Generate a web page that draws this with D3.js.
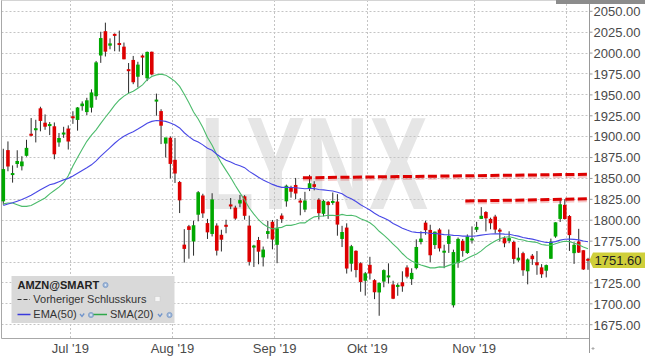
<!DOCTYPE html>
<html><head><meta charset="utf-8">
<script src="https://cdn.jsdelivr.net/npm/d3@7"></script>
<style>html,body{margin:0;padding:0;background:#fff}svg{display:block}</style>
</head><body>
<svg id="chart" width="645" height="358"></svg>
<script>
const dates = [
"2019-06-10","2019-06-11","2019-06-12","2019-06-13","2019-06-14","2019-06-17","2019-06-18","2019-06-19","2019-06-20","2019-06-21","2019-06-24","2019-06-25","2019-06-26","2019-06-27","2019-06-28",
"2019-07-01","2019-07-02","2019-07-03","2019-07-05","2019-07-08","2019-07-09","2019-07-10","2019-07-11","2019-07-12","2019-07-15","2019-07-16","2019-07-17","2019-07-18","2019-07-19","2019-07-22","2019-07-23","2019-07-24","2019-07-25","2019-07-26","2019-07-29","2019-07-30","2019-07-31",
"2019-08-01","2019-08-02","2019-08-05","2019-08-06","2019-08-07","2019-08-08","2019-08-09","2019-08-12","2019-08-13","2019-08-14","2019-08-15","2019-08-16","2019-08-19","2019-08-20","2019-08-21","2019-08-22","2019-08-23","2019-08-26","2019-08-27","2019-08-28","2019-08-29","2019-08-30",
"2019-09-03","2019-09-04","2019-09-05","2019-09-06","2019-09-09","2019-09-10","2019-09-11","2019-09-12","2019-09-13","2019-09-16","2019-09-17","2019-09-18","2019-09-19","2019-09-20","2019-09-23","2019-09-24","2019-09-25","2019-09-26","2019-09-27","2019-09-30",
"2019-10-01","2019-10-02","2019-10-03","2019-10-04","2019-10-07","2019-10-08","2019-10-09","2019-10-10","2019-10-11","2019-10-14","2019-10-15","2019-10-16","2019-10-17","2019-10-18","2019-10-21","2019-10-22","2019-10-23","2019-10-24","2019-10-25","2019-10-28","2019-10-29","2019-10-30","2019-10-31",
"2019-11-01","2019-11-04","2019-11-05","2019-11-06","2019-11-07","2019-11-08","2019-11-11","2019-11-12","2019-11-13","2019-11-14","2019-11-15","2019-11-18","2019-11-19","2019-11-20","2019-11-21","2019-11-22","2019-11-25","2019-11-26","2019-11-27","2019-11-29",
"2019-12-02","2019-12-03","2019-12-04","2019-12-05","2019-12-06"];

const open = [1822.0,1883.3,1854.0,1866.7,1864.0,1876.5,1902.0,1907.8,1933.3,1916.1,1912.7,1911.8,1892.5,1902.0,1909.1,
1923.0,1919.4,1935.9,1928.8,1934.1,1947.8,1996.5,2025.6,2008.3,2021.4,2010.6,2007.1,1980.0,1991.2,1971.1,1996.0,1969.3,2001.0,1942.0,1930.0,1891.1,1898.1,
1871.7,1845.1,1770.2,1792.2,1774.0,1806.0,1829.0,1796.0,1783.0,1793.0,1782.0,1792.9,1818.1,1814.5,1819.4,1828.0,1793.0,1766.9,1775.7,1755.0,1783.0,1797.5,
1770.0,1805.0,1822.0,1838.2,1841.6,1822.8,1812.1,1837.6,1842.5,1824.0,1807.1,1821.5,1821.0,1821.7,1777.0,1790.6,1747.4,1762.8,1748.0,1727.0,
1746.0,1727.7,1713.0,1726.0,1731.6,1722.5,1719.6,1725.2,1742.9,1728.9,1742.1,1773.3,1796.5,1787.8,1769.7,1788.2,1761.3,1771.1,1697.6,1748.1,1774.8,1760.2,1776.0,
1788.0,1801.0,1809.2,1801.0,1803.8,1787.9,1778.0,1774.7,1773.4,1751.4,1760.0,1738.3,1757.0,1749.1,1743.0,1739.0,1753.3,1779.9,1801.0,1817.8,
1804.4,1760.0,1774.0,1763.5,1752.4];

const high = [1884.9,1893.7,1865.0,1883.1,1876.0,1895.7,1921.7,1919.6,1935.2,1926.0,1916.9,1916.4,1903.8,1911.2,1912.9,
1929.8,1934.8,1941.6,1945.9,1956.0,1990.0,2024.9,2035.8,2017.0,2022.9,2026.3,2012.0,1987.5,1996.0,1989.0,1997.8,2001.3,2001.2,1950.9,1932.2,1897.8,1899.6,
1897.9,1846.4,1788.7,1793.8,1798.9,1834.3,1831.1,1801.0,1831.7,1795.7,1788.0,1800.0,1826.0,1816.8,1829.6,1829.4,1804.9,1770.0,1779.4,1767.9,1798.6,1799.7,
1800.8,1807.6,1842.0,1840.7,1850.0,1825.8,1833.4,1853.7,1846.1,1825.7,1824.0,1822.5,1832.6,1830.6,1792.7,1795.7,1769.9,1763.4,1749.1,1737.5,
1755.6,1728.9,1725.0,1740.6,1747.8,1727.0,1724.0,1738.3,1745.5,1741.9,1776.5,1786.2,1798.9,1794.0,1785.9,1789.8,1770.1,1788.3,1764.2,1778.7,1777.0,1782.4,1792.0,
1797.5,1815.1,1810.3,1802.5,1805.9,1789.9,1780.0,1786.2,1775.0,1766.6,1761.7,1753.7,1759.0,1762.5,1746.9,1746.4,1777.4,1797.0,1824.5,1824.7,
1805.6,1772.9,1789.1,1763.5,1754.4];

const low = [1818.0,1858.0,1844.4,1862.2,1859.0,1875.5,1899.8,1892.5,1905.8,1907.6,1901.3,1872.4,1887.3,1898.0,1884.0,
1914.7,1906.6,1930.5,1925.3,1928.3,1943.5,1987.7,1995.3,2003.9,2001.6,2001.2,1992.0,1951.6,1962.2,1958.3,1973.1,1965.9,1972.7,1924.5,1890.5,1874.5,1849.4,
1844.0,1808.0,1748.8,1753.4,1757.0,1798.1,1802.2,1777.0,1780.0,1757.2,1762.0,1783.8,1812.6,1799.9,1815.0,1800.1,1745.2,1743.5,1746.7,1744.1,1777.3,1764.6,
1748.0,1796.2,1815.6,1826.4,1824.6,1805.3,1809.1,1834.3,1835.2,1800.2,1804.1,1801.0,1817.9,1780.9,1767.3,1735.6,1738.0,1731.0,1713.8,1709.2,
1728.4,1705.0,1685.1,1719.2,1723.7,1705.0,1709.0,1713.8,1729.9,1722.0,1740.6,1770.5,1782.0,1749.2,1765.0,1762.0,1742.0,1760.3,1695.0,1742.5,1755.8,1759.1,1771.5,
1785.2,1801.0,1786.0,1788.6,1783.5,1774.0,1767.1,1771.9,1747.3,1749.6,1732.9,1722.7,1746.0,1734.1,1730.4,1731.0,1753.2,1778.4,1797.3,1800.3,
1762.7,1747.2,1760.2,1740.0,1740.1];

const close = [1860.6,1863.7,1855.3,1870.3,1869.7,1886.0,1901.4,1908.8,1918.2,1911.3,1913.9,1878.3,1897.8,1904.3,1893.6,
1922.2,1934.3,1939.0,1942.9,1952.3,1988.3,2017.4,2001.1,2011.0,2021.0,2009.9,1992.0,1977.9,1964.5,1985.6,1994.5,2000.8,1973.8,1943.1,1912.5,1898.5,1866.8,
1855.3,1823.2,1765.1,1787.8,1793.4,1832.9,1807.6,1784.9,1824.3,1763.0,1776.1,1792.6,1816.1,1801.4,1823.5,1804.7,1749.6,1768.9,1761.8,1764.3,1786.4,1776.3,
1789.8,1800.6,1840.7,1833.5,1831.4,1820.6,1823.0,1843.6,1839.3,1807.8,1822.6,1817.5,1821.5,1794.2,1785.3,1741.6,1768.3,1739.8,1725.5,1735.9,
1735.7,1713.2,1724.4,1739.7,1732.7,1705.5,1722.0,1720.3,1731.9,1736.4,1767.4,1777.4,1787.5,1757.5,1785.7,1765.7,1762.2,1780.8,1761.3,1777.1,1762.7,1780.0,1776.7,
1791.4,1804.7,1801.7,1795.8,1788.2,1785.9,1771.7,1778.0,1753.1,1754.6,1739.5,1752.5,1752.8,1745.5,1734.7,1745.7,1773.8,1796.9,1818.5,1800.8,
1781.6,1770.0,1760.7,1740.5,1751.6];

const ema50 = [1817.0,1818.8,1820.3,1822.2,1824.1,1826.5,1829.4,1832.5,1835.9,1838.9,
1841.8,1843.2,1845.4,1847.7,1849.5,1852.3,1855.5,1858.8,1862.1,1865.7,
1870.5,1876.2,1881.1,1886.2,1891.5,1896.1,1899.9,1903.0,1905.4,1908.5,
1911.9,1915.4,1917.7,1918.7,1918.4,1917.7,1915.7,1913.3,1909.8,1904.1,
1899.5,1895.4,1892.9,1889.6,1885.5,1883.1,1878.4,1874.4,1871.2,1869.0,
1866.3,1864.6,1862.3,1857.9,1854.4,1850.8,1847.4,1845.0,1842.3,1840.2,
1838.7,1838.8,1838.6,1838.3,1837.6,1837.0,1837.3,1837.4,1836.2,1835.7,
1835.0,1834.4,1832.9,1831.0,1827.5,1825.2,1821.8,1818.0,1814.8,1811.7,
1807.8,1804.6,1802.0,1799.3,1795.6,1792.7,1789.9,1787.6,1785.6,1784.9,
1784.6,1784.7,1783.6,1783.7,1783.0,1782.2,1782.1,1781.3,1781.1,1780.4,
1780.4,1780.2,1780.7,1781.6,1782.4,1782.9,1783.1,1783.2,1782.8,1782.6,
1781.4,1780.4,1778.8,1777.7,1776.8,1775.5,1773.9,1772.8,1772.9,1773.8,
1775.6,1776.6,1776.8,1776.5,1775.9,1774.5,1773.6];

const sma20 = [1819,1820,1820,1818,1816,1816,1817,1820,1823,1826,1831,1835,1839,1844,
1852.7,1864.2,1874.4,1884.4,1893.8,
1901.2,1907.6,1915.3,1922.6,1929.6,1937.2,1943.3,1947.9,1951.3,1953.7,
1957.4,1961.4,1967.5,1971.3,1973.3,1974.2,1973.0,1969.6,1965.5,1959.5,
1950.1,1940.1,1928.9,1920.5,1910.3,1898.5,1889.2,1877.8,1867.7,1859.1,
1850.6,1841.0,1832.1,1823.6,1814.0,1806.8,1800.0,1794.8,1791.4,1789.0,
1790.3,1790.9,1793.3,1793.3,1794.5,1796.3,1796.2,1800.2,1803.4,1804.2,
1804.5,1805.3,1805.2,1804.7,1806.4,1805.1,1805.4,1804.2,1801.1,1799.1,
1796.4,1792.0,1786.2,1781.5,1776.6,1770.8,1765.8,1759.6,1754.3,1750.7,
1747.9,1745.9,1744.2,1742.4,1742.4,1743.6,1743.3,1745.4,1747.2,1749.2,
1750.6,1753.9,1756.5,1759.1,1762.7,1767.5,1771.2,1774.6,1777.3,1779.1,
1779.6,1778.4,1776.7,1775.8,1774.2,1773.5,1772.7,1770.4,1769.6,1769.4,
1771.2,1773.1,1774.3,1773.8,1772.1,1770.0,1767.3,1765.4];

const yTickValues = [1675,1700,1725,1750,1775,1800,1825,1850,1875,1900,1925,1950,1975,2000,2025,2050];
const monthKeys = ["2019-07","2019-08","2019-09","2019-10","2019-11","2019-12"];
const monthLabels = ["Jul '19","Aug '19","Sep '19","Okt '19","Nov '19",""];
const trendStart = ["2019-09-11","2019-10-30"];
const trendEnd = ["2019-12-06","2019-12-06"];
const trendP1 = [1850.2,1822.4];
const trendP2 = [1854.4,1825.0];
const lastPrice = 1751.60;
const legendTitle = "AMZN@SMART";
const legendPrev = "Vorheriger Schlusskurs";
const legendEma = "EMA(50)";
const legendSma = "SMA(20)";

const svg = d3.select("#chart");
const n = dates.length;
const plotL = 1.5, plotR = 589.5, plotB = 338.5;
const x = d3.scaleLinear().domain([0, n - 1]).range([3.3, 588]);
const y = d3.scaleLinear().domain([1675, 2050]).range([324.2, 10.8]);
const idx = d => dates.indexOf(d);
const AX = "Liberation Sans, Arial, sans-serif";

// watermark
svg.append("text").attr("x", 200).attr("y", 209)
  .attr("font-family", AX).attr("font-weight", "bold").attr("font-size", 131)
  .attr("fill", "#e6e6e6").attr("textLength", 228).attr("lengthAdjust", "spacingAndGlyphs")
  .text("LYNX");

// grid
const grid = svg.append("g").attr("stroke", "#c4c4c4").attr("stroke-dasharray", "2,2").attr("stroke-width", 1);
grid.selectAll("line.h").data(yTickValues).join("line")
  .attr("x1", plotL).attr("x2", plotR)
  .attr("y1", d => Math.round(y(d)) + 0.5).attr("y2", d => Math.round(y(d)) + 0.5);
const monthIdx = monthKeys.map(k => dates.findIndex(d => d.startsWith(k)));
const monthX = monthIdx.map(i => Math.round(x(i - 0.65)) + 0.5);
grid.selectAll("line.v").data(monthX).join("line")
  .attr("x1", d => d).attr("x2", d => d).attr("y1", 0).attr("y2", plotB);

// frame
const fr = svg.append("g").attr("stroke", "#a8a8a8").attr("stroke-width", 1);
fr.append("line").attr("x1", plotL).attr("x2", plotL).attr("y1", 0).attr("y2", plotB);
fr.append("line").attr("x1", plotL).attr("x2", plotR).attr("y1", plotB).attr("y2", plotB);
fr.append("line").attr("x1", plotL).attr("x2", plotR).attr("y1", 0.5).attr("y2", 0.5).attr("stroke", "#d4d4d4");
fr.append("line").attr("x1", plotR).attr("x2", plotR).attr("y1", 0).attr("y2", 353).attr("stroke", "#999");

// candles
const cg = svg.append("g");
const ids = d3.range(n);
cg.selectAll("line.wick").data(ids).join("line")
  .attr("x1", i => x(i)).attr("x2", i => x(i))
  .attr("y1", i => y(high[i])).attr("y2", i => y(low[i]))
  .attr("stroke", "#2b2b2b").attr("stroke-width", 1);
const bw = 3.6;
cg.selectAll("rect.body").data(ids).join("rect")
  .attr("x", i => x(i) - bw / 2).attr("width", bw)
  .attr("y", i => {
    const t = y(Math.max(open[i], close[i])), b = y(Math.min(open[i], close[i]));
    return (b - t < 2) ? (t + b) / 2 - 1 : t;
  })
  .attr("height", i => Math.max(2, y(Math.min(open[i], close[i])) - y(Math.max(open[i], close[i]))))
  .attr("fill", i => close[i] >= open[i] ? "#00a800" : "#dd0000");

// indicator lines
const line = d3.line().x((d, i) => x(i)).y(d => y(d));
svg.append("path").datum(sma20).attr("d", line).attr("fill", "none").attr("stroke", "#4cbb6c").attr("stroke-width", 1.1);
svg.append("path").datum(ema50).attr("d", line).attr("fill", "none").attr("stroke", "#4848e6").attr("stroke-width", 1.1);

// trend lines
const tg = svg.append("g");
trendStart.forEach((s, k) => {
  const x1 = x(idx(s)) - 2, x2 = x(idx(trendEnd[k]));
  tg.append("line").attr("x1", x1).attr("x2", x2)
    .attr("y1", y(trendP1[k]) + 1.5).attr("y2", y(trendP2[k]) + 1.5)
    .attr("stroke", "rgba(215,0,0,0.22)").attr("stroke-width", 4).attr("stroke-dasharray", "9,3.5");
  tg.append("line").attr("x1", x1).attr("x2", x2)
    .attr("y1", y(trendP1[k])).attr("y2", y(trendP2[k]))
    .attr("stroke", "#dd0000").attr("stroke-width", 3).attr("stroke-dasharray", "9,3.5");
});

// y axis (the tick label hidden under the last-price tag is not drawn, as in the reference)
const ly = y(lastPrice);
const yAxis = d3.axisRight(y).tickValues(yTickValues)
  .tickFormat(d => Math.abs(y(d) - ly) < 12 ? "" : d3.format(".2f")(d))
  .tickSize(3).tickPadding(1);
const ya = svg.append("g").attr("transform", `translate(${plotR},0)`).call(yAxis);
ya.select(".domain").remove();
ya.selectAll(".tick line").attr("stroke", "#999");
ya.selectAll(".tick text").attr("font-family", AX).attr("font-size", 13).attr("fill", "#4a4a4a").attr("dy", "0.37em");

// x axis
const xAxis = d3.axisBottom(x).tickValues(monthIdx.map(i => i - 0.65))
  .tickFormat((d, k) => monthLabels[k]).tickSize(0).tickPadding(5.6);
const xa = svg.append("g").attr("transform", `translate(0,${plotB})`).call(xAxis);
xa.select(".domain").remove();
xa.selectAll(".tick text").attr("font-family", AX).attr("font-size", 13).attr("fill", "#4a4a4a");

// small marker bottom right
svg.append("path").attr("d", "M591.5,348.5h3M593,347v3").attr("stroke", "#aaa").attr("stroke-width", 1);

// top right tab
svg.append("rect").attr("x", 556).attr("y", -2).attr("width", 89).attr("height", 6).attr("fill", "#8c8c8c");

// last price label
svg.append("path")
  .attr("d", `M${plotR},${ly} L${plotR + 3.5},${ly - 7.8} H645 V${ly + 7.8} H${plotR + 3.5} Z`)
  .attr("fill", "#cfcf3a");
svg.append("text").attr("x", 594.5).attr("y", ly).attr("dy", "0.37em")
  .attr("font-family", AX).attr("font-size", 13).attr("fill", "#222").text(lastPrice.toFixed(2));

// legend
const lg = svg.append("g");
lg.append("rect").attr("x", 11.5).attr("y", 276).attr("width", 163).attr("height", 47).attr("fill", "#d9d9d9");
lg.append("text").attr("x", 17.5).attr("y", 288.5).attr("font-family", AX).attr("font-size", 11)
  .attr("font-weight", "bold").attr("fill", "#222").text(legendTitle);
function gear(cx, cy) {
  lg.append("circle").attr("cx", cx).attr("cy", cy).attr("r", 2.6).attr("fill", "#9db6d8").attr("stroke", "#7e9cc6").attr("stroke-width", 0.8);
  lg.append("circle").attr("cx", cx).attr("cy", cy).attr("r", 0.9).attr("fill", "#e8eef6");
}
function check(cx, cy) {
  lg.append("path").attr("d", `M${cx - 2},${cy - 1} L${cx},${cy + 1.5} L${cx + 2.2},${cy - 1.5}`)
    .attr("fill", "none").attr("stroke", "#6f94cc").attr("stroke-width", 1.3);
}
gear(105.5, 285);
lg.append("line").attr("x1", 17.5).attr("x2", 30).attr("y1", 299.5).attr("y2", 299.5)
  .attr("stroke", "#333").attr("stroke-width", 1.2).attr("stroke-dasharray", "4,2");
lg.append("text").attr("x", 33.3).attr("y", 303).attr("font-family", AX).attr("font-size", 11)
  .attr("fill", "#333").text(legendPrev);
lg.append("rect").attr("x", 155).attr("y", 296.5).attr("width", 5).attr("height", 5).attr("fill", "#f6f6f6").attr("stroke", "#ccc").attr("stroke-width", 0.5);
lg.append("line").attr("x1", 17.5).attr("x2", 30.5).attr("y1", 314.5).attr("y2", 314.5).attr("stroke", "#3a3adc").attr("stroke-width", 1.5);
lg.append("text").attr("x", 33.3).attr("y", 318).attr("font-family", AX).attr("font-size", 11).attr("fill", "#333").text(legendEma);
check(82, 315); gear(91, 315);
lg.append("line").attr("x1", 93.5).attr("x2", 107).attr("y1", 314.5).attr("y2", 314.5).attr("stroke", "#2fa84a").attr("stroke-width", 1.5);
lg.append("text").attr("x", 110).attr("y", 318).attr("font-family", AX).attr("font-size", 11).attr("fill", "#333").text(legendSma);
check(160, 315); gear(169.5, 315);
</script>
</body></html>
